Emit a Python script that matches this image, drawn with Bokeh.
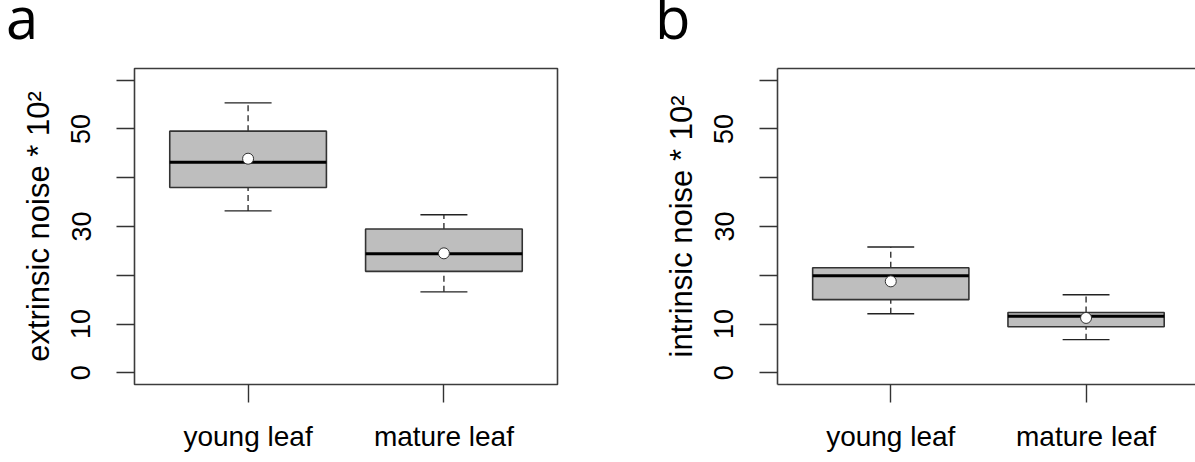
from bokeh.plotting import figure
from bokeh.models import Range1d, FixedTicker, LinearAxis, Div
from bokeh.layouts import row, column
from bokeh.embed import file_html
from bokeh.resources import INLINE

categories = ["young leaf", "mature leaf"]
y_ticks = [0, 10, 20, 30, 40, 50, 60]
y_tick_labels = ["0", "10", "", "30", "", "50", ""]
panel_letters = ["a", "b"]

# panel a: extrinsic noise * 10^2
ext_lower = [33.2, 16.6]
ext_q1 = [38.0, 20.8]
ext_median = [43.15, 24.4]
ext_q3 = [49.55, 29.5]
ext_upper = [55.35, 32.4]
ext_mean = [43.9, 24.5]

# panel b: intrinsic noise * 10^2
int_lower = [12.1, 6.8]
int_q1 = [15.0, 9.45]
int_median = [19.9, 11.6]
int_q3 = [21.55, 12.35]
int_upper = [25.8, 16.0]
int_mean = [18.75, 11.25]

FONT = "Liberation Sans"
FRAME = "#3c3c3c"
BOXW = 0.8
CAPW = 0.24
HEAD = 40          # height of the strip holding the panel letters
PLOT_H = 462 - HEAD


def style_axis(ax, font_size, label_size=None):
    ax.major_tick_out = 18
    ax.major_tick_in = 0
    ax.minor_tick_line_color = None
    ax.major_tick_line_color = "#333333"
    ax.major_tick_line_width = 1.4
    ax.major_label_text_font = FONT
    ax.major_label_text_font_size = font_size
    ax.major_label_text_color = "black"
    if label_size:
        ax.axis_label_text_font = FONT
        ax.axis_label_text_font_size = label_size
        ax.axis_label_text_font_style = "normal"
        ax.axis_label_text_color = "black"


def panel(ylabel, lower, q1, med, q3, upper, mean, width, ml, mr, x_end, use_outline):
    xs = list(range(1, len(categories) + 1))
    p = figure(width=width, height=PLOT_H, x_range=Range1d(0.42, x_end),
               y_range=Range1d(-2.4, 62.4), output_backend="svg",
               toolbar_location=None, min_border_left=ml, min_border_right=mr,
               min_border_top=68 - HEAD, min_border_bottom=78)
    p.grid.visible = False
    p.background_fill_color = "white"
    p.border_fill_color = "white"

    xa = p.xaxis[0]
    xa.ticker = FixedTicker(ticks=xs)
    xa.major_label_overrides = {x: c for x, c in zip(xs, categories)}
    style_axis(xa, "28px")
    xa.major_label_standoff = 18

    ya = p.yaxis[0]
    ya.ticker = FixedTicker(ticks=y_ticks)
    ya.major_label_overrides = {t: l for t, l in zip(y_ticks, y_tick_labels)}
    ya.major_label_orientation = "vertical"
    ya.axis_label = ylabel
    style_axis(ya, "27px", "31px")
    ya.major_label_standoff = 26
    ya.axis_label_standoff = 13

    if use_outline:
        p.outline_line_color = FRAME
        p.outline_line_width = 1.6
        p.outline_line_alpha = 1
        xa.axis_line_color = None
        ya.axis_line_color = None
    else:
        p.outline_line_color = None
        for ax in (xa, ya):
            ax.axis_line_color = FRAME
            ax.axis_line_width = 1.6
        top = LinearAxis(major_tick_line_color=None, minor_tick_line_color=None,
                         major_tick_out=0, major_label_standoff=0,
                         major_label_text_color=None, axis_line_color=FRAME,
                         axis_line_width=1.6, major_label_text_font_size="1px",
                         ticker=FixedTicker(ticks=[]))
        p.add_layout(top, "above")

    # whiskers (dashed)
    p.segment(x0=xs, y0=q3, x1=xs, y1=upper, line_color="#222222", line_width=1.3, line_dash="6 4")
    p.segment(x0=xs, y0=lower, x1=xs, y1=q1, line_color="#222222", line_width=1.3, line_dash="6 4")
    # staples
    p.segment(x0=[x - CAPW / 2 for x in xs], y0=upper, x1=[x + CAPW / 2 for x in xs], y1=upper,
              line_color="#222222", line_width=1.4)
    p.segment(x0=[x - CAPW / 2 for x in xs], y0=lower, x1=[x + CAPW / 2 for x in xs], y1=lower,
              line_color="#222222", line_width=1.4)
    # boxes
    p.vbar(x=xs, width=BOXW, bottom=q1, top=q3, fill_color="#BEBEBE",
           line_color="#333333", line_width=1.6)
    # medians
    p.segment(x0=[x - BOXW / 2 for x in xs], y0=med, x1=[x + BOXW / 2 for x in xs], y1=med,
              line_color="black", line_width=3)
    # means
    p.scatter(x=xs, y=mean, size=11, marker="circle", fill_color="white",
              line_color="#333333", line_width=1)
    return p


def letter_div(letter, width, pad_left):
    return Div(text=letter, width=width, height=HEAD, margin=0,
               styles={"font-family": "Open Sans", "font-size": "58px",
                       "line-height": "0.6", "color": "black",
                       "padding-left": f"{pad_left}px", "overflow": "visible",
                       "box-sizing": "border-box"})


pa = panel("extrinsic noise * 10²", ext_lower, ext_q1, ext_median, ext_q3,
           ext_upper, ext_mean, 600, 134, 43, 2.58, True)
pb = panel("intrinsic noise * 10²", int_lower, int_q1, int_median, int_q3,
           int_upper, int_mean, 595, 177, 0, 0.42 + 418 / 195.3, False)

da = letter_div(panel_letters[0], 600, 6)
db = letter_div(panel_letters[1], 595, 55)

layout = column(row(da, db), row(pa, pb))
open("out.html", "w").write(file_html(layout, INLINE))
